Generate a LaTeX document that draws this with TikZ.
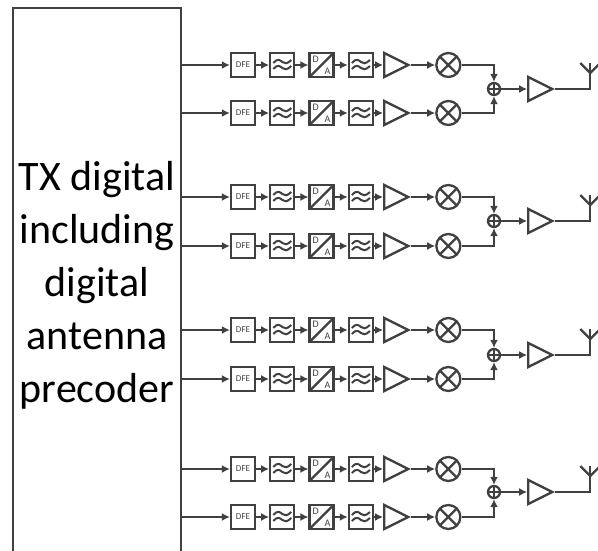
\documentclass[tikz,border=0pt]{standalone}
\usepackage{fontspec}
\setmainfont{Carlito}
\usetikzlibrary{arrows.meta,positioning,shapes.geometric}
\colorlet{linecol}{black!75}

\begin{document}
\begin{tikzpicture}[
    x=1pt, y=-1pt,
    >={Latex[length=8pt,width=8pt]},
    line width=2.3pt,
    node distance=13pt,
    conn/.style={draw=linecol},
    block/.style={draw=linecol, rectangle, minimum size=24pt, inner sep=0pt, font=\fontsize{9}{9}\selectfont, text=linecol},
    filt/.style={block, path picture={
        \draw[linecol, shift={(path picture bounding box.center)}, line width=2pt]
            (-9,-2) .. controls (-5,-7) and (-2,-5) .. (0,-3) .. controls (2,-1) and (5,-1) .. (9,-5)
            (-9,4) .. controls (-5,-1) and (-2,1) .. (0,3) .. controls (2,5) and (5,5) .. (9,1);}},
    dac/.style={block, path picture={
        \draw[linecol] (path picture bounding box.south west) -- (path picture bounding box.north east);}},
    daclabel/.style={font=\fontsize{10}{10}\selectfont, text=linecol, inner sep=0pt},
    amp/.style={draw=linecol, isosceles triangle, isosceles triangle stretches, minimum width=24pt, minimum height=24pt, inner sep=0pt},
    mixer/.style={draw=linecol, circle, minimum size=24pt, inner sep=0pt, path picture={
        \draw[linecol] (path picture bounding box.south west) -- (path picture bounding box.north east)
              (path picture bounding box.north west) -- (path picture bounding box.south east);}},
    sum/.style={draw=linecol, circle, minimum size=12pt, inner sep=0pt, path picture={
        \draw[linecol, line width=1.5pt] (path picture bounding box.south) -- (path picture bounding box.north)
              (path picture bounding box.west) -- (path picture bounding box.east);}}
]

\useasboundingbox (0,0) rectangle (598,551);

% TX digital block, open at the bottom
\coordinate (txbl) at (13,551);
\coordinate (txtl) at (13,8);
\coordinate (txtr) at (181,8);
\coordinate (txbr) at (181,551);
\draw[conn] (txbl) -- (txtl) -- (txtr) -- (txbr);
\node[align=center, font=\fontsize{42}{53}\selectfont, text=black] (tx) at (97,285)
{TX digital\\including\\digital\\antenna\\precoder};

% Chains
\foreach \row/\ypos in {a/65,b/113,c/197,d/246,e/330,f/379,g/469,h/517} {
    \coordinate (out\row) at (181,\ypos);
    \node[block] (dfe\row) at (243,\ypos) {DFE};
    \node[filt, right=of dfe\row] (lpa\row) {};
    \node[dac, right=of lpa\row] (da\row) {};
    \node[daclabel] (dd\row) at ([shift={(-6,-6)}]da\row.center) {D};
    \node[daclabel] (aa\row) at ([shift={(6,6)}]da\row.center) {A};
    \node[filt, right=of da\row] (lpb\row) {};
    \node[amp, right=9pt of lpb\row] (pa\row) {};
    \node[mixer, right=24pt of pa\row] (mix\row) {};

    \draw[conn,->] (out\row) -- (dfe\row);
    \draw[conn,->] (dfe\row) -- (lpa\row);
    \draw[conn,->] (lpa\row) -- (da\row);
    \draw[conn,->] (da\row) -- (lpb\row);
    \draw[conn,->] (lpb\row) -- (pa\row);
    \draw[conn,->] (pa\row) -- (mix\row);
}

% Combiners and antennas
\foreach \up/\dn/\num/\ypos in {a/b/1/89,c/d/2/221,e/f/3/355,g/h/4/492} {
    \node[sum] (add\num) at (494,\ypos) {};
    \node[amp, right=26pt of add\num] (out\num) {};
    \coordinate[right=35pt of out\num.east] (foot\num);
    \coordinate[above=16pt of foot\num] (fork\num);
    \coordinate[above=26pt of foot\num] (top\num);
    \coordinate[left=10pt of top\num] (tipl\num);
    \coordinate[right=10pt of top\num] (tipr\num);

    \draw[conn,->] (mix\up) -| (add\num);
    \draw[conn,->] (mix\dn) -| (add\num);
    \draw[conn,->] (add\num) -- (out\num);
    \draw[conn] (out\num.east) -- (foot\num) -- (top\num);
    \draw[conn] (tipl\num) -- (fork\num) -- (tipr\num);
}

\end{tikzpicture}
\end{document}
